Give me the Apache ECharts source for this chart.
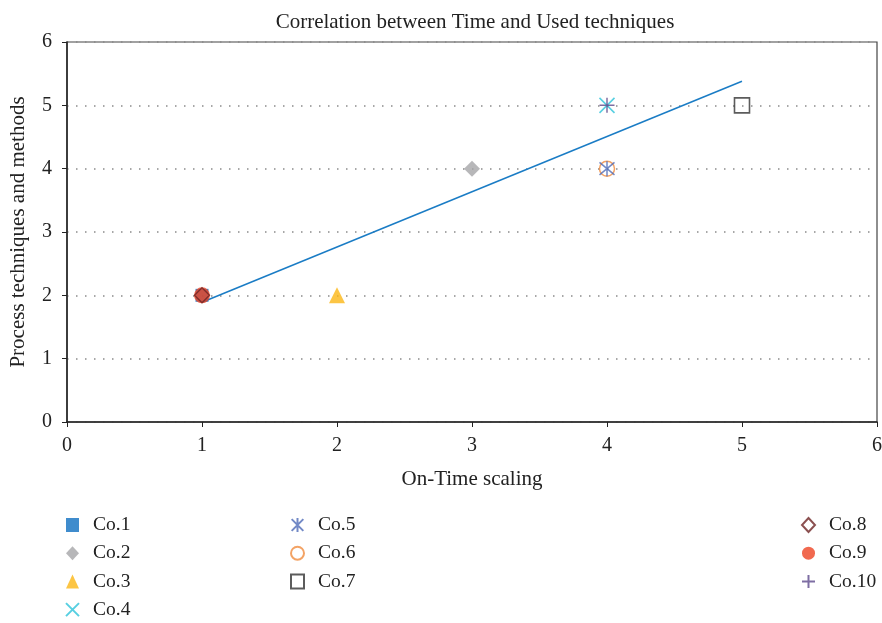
<!DOCTYPE html>
<html>
<head>
<meta charset="utf-8">
<script src="https://cdn.jsdelivr.net/npm/echarts@6/dist/echarts.min.js"></script>
<style>
  html, body { margin: 0; padding: 0; background: #fff; }
  #chart { width: 882px; height: 623px; }
</style>
</head>
<body>
<div id="chart"></div>
<script>
// company names and their (on-time scaling, process techniques) points
const companies = ['Co.1', 'Co.2', 'Co.3', 'Co.4', 'Co.5', 'Co.6', 'Co.7', 'Co.8', 'Co.9', 'Co.10'];
const onTime = [1, 3, 2, 4, 4, 4, 5, 1, 1, 4];
const techniques = [2, 4, 2, 5, 4, 4, 5, 2, 2, 5];
// trend line end points
const trendX = [1, 5];
const trendY = [1.89, 5.38];

const serif = '"Liberation Serif", "DejaVu Serif", serif';

const X_PATH = 'path://M0,0L10,10M10,0L0,10';
const STAR_PATH = 'path://M0,0L10,10M10,0L0,10M5,-1L5,11';
const PLUS_PATH = 'path://M5,0L5,10M0,5L10,5';

function hollow(symbol, size, color, width) {
  return { symbol: symbol, size: size, itemStyle: { color: 'transparent', borderColor: color, borderWidth: width } };
}

const markerStyles = [
  { symbol: 'rect', size: 13, itemStyle: { color: '#0f6fc0' } },
  { symbol: 'diamond', size: 16, itemStyle: { color: '#a5a5a7' } },
  { symbol: 'triangle', size: 16, itemStyle: { color: '#fbb615' } },
  hollow(X_PATH, 15, '#2ec3d9', 1.6),
  hollow(STAR_PATH, 15, '#4f6cb8', 1.5),
  hollow('circle', 15, '#f08c3e', 1.5),
  hollow('rect', 15, '#333333', 1.6),
  hollow('diamond', 15, '#6e2424', 1.4),
  { symbol: 'circle', size: 16, itemStyle: { color: '#ee4323' } },
  hollow(PLUS_PATH, 15, '#5e4a8c', 1.5)
];

// draw order so overlapping marks resemble the original
const drawOrder = [0, 1, 2, 3, 5, 4, 6, 8, 7, 9];

const scatterSeries = drawOrder.map((i, k) => ({
  name: companies[i],
  type: 'scatter',
  data: [[onTime[i], techniques[i]]],
  symbol: markerStyles[i].symbol,
  symbolSize: markerStyles[i].size,
  itemStyle: markerStyles[i].itemStyle,
  z: 3 + k,
  emphasis: { disabled: true }
}));

const legendBase = {
  orient: 'vertical',
  itemWidth: 13,
  itemHeight: 14,
  itemGap: 8.2,
  height: 120,
  textStyle: { fontFamily: serif, fontSize: 19.5, color: '#222', padding: [0, 0, 0, 9] },
  selectedMode: false
};

const chart = echarts.init(document.getElementById('chart'), null, { renderer: 'canvas' });
chart.setOption({
  animation: false,
  title: {
    text: 'Correlation between Time and Used techniques',
    left: 470,
    top: 7,
    textAlign: 'center',
    textStyle: { fontFamily: serif, fontSize: 21, fontWeight: 'normal', color: '#222' }
  },
  legend: [
    Object.assign({}, legendBase, { left: 60, top: 510, data: companies.slice(0, 4) }),
    Object.assign({}, legendBase, { left: 285, top: 510, data: companies.slice(4, 7) }),
    Object.assign({}, legendBase, { left: 796, top: 510, data: companies.slice(7) })
  ],
  grid: {
    left: 67, right: 5, top: 42, bottom: 201,
    outerBoundsMode: 'none',
    containLabel: false,
    show: true, borderColor: '#444', borderWidth: 1.2
  },
  xAxis: {
    type: 'value',
    min: 0, max: 6, interval: 1,
    name: 'On-Time scaling',
    nameLocation: 'middle',
    nameGap: 47,
    nameTextStyle: { fontFamily: serif, fontSize: 21, color: '#222' },
    axisLine: { onZero: false, lineStyle: { color: '#222', width: 1.5 } },
    axisTick: { show: true, length: 5, lineStyle: { color: '#222' } },
    axisLabel: { fontFamily: serif, fontSize: 20, color: '#222', margin: 14 },
    splitLine: { show: false }
  },
  yAxis: {
    type: 'value',
    min: 0, max: 6, interval: 1,
    name: 'Process techniques and methods',
    nameLocation: 'middle',
    nameGap: 38,
    nameTextStyle: { fontFamily: serif, fontSize: 21, color: '#222' },
    axisLine: { show: true, onZero: false, lineStyle: { color: '#222', width: 1.5 } },
    axisTick: { show: true, length: 5, lineStyle: { color: '#222' } },
    axisLabel: { fontFamily: serif, fontSize: 20, color: '#222', margin: 15 },
    splitLine: { show: true, lineStyle: { color: '#8a8a8a', width: 1.5, type: [1.5, 7.5] } }
  },
  series: [
    {
      name: 'trend',
      type: 'line',
      data: trendX.map((x, i) => [x, trendY[i]]),
      symbol: 'none',
      lineStyle: { color: '#1a7cc5', width: 1.5 },
      z: 2,
      silent: true
    }
  ].concat(scatterSeries)
});
</script>
</body>
</html>
